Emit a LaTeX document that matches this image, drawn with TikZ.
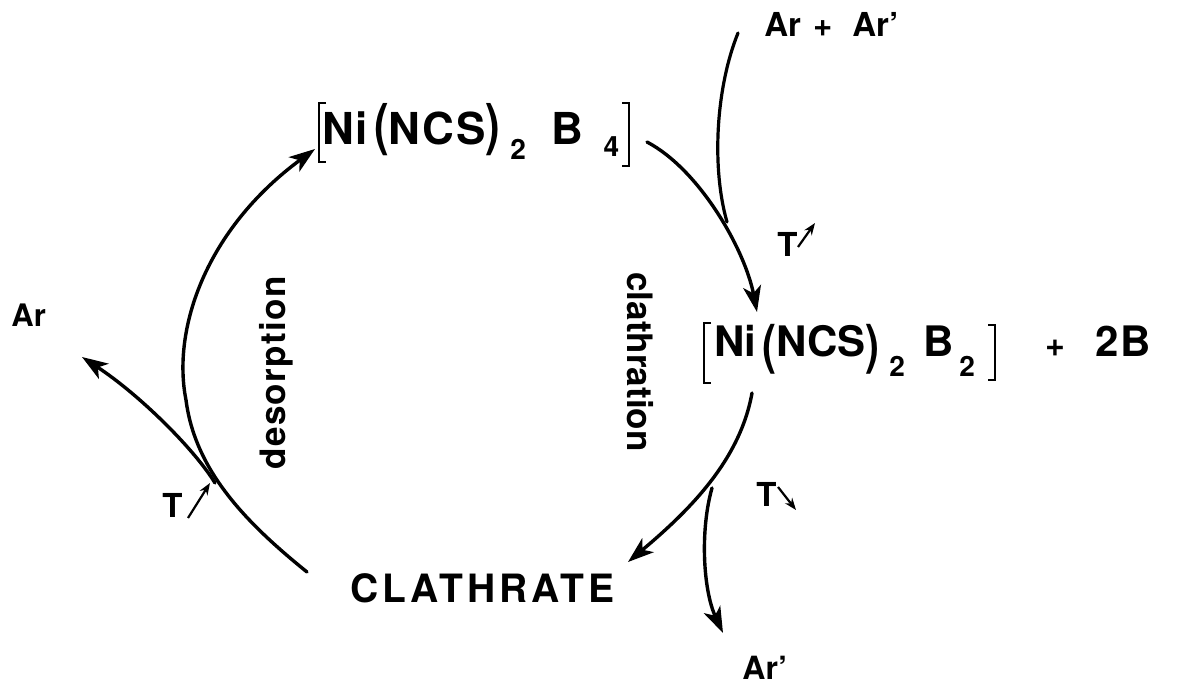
\documentclass[tikz,border=0pt]{standalone}
\usepackage{fontspec}
\usepackage{graphicx}
\setmainfont{TeX Gyre Heros}
\newfontfamily\spacedfont[LetterSpace=10]{TeX Gyre Heros}
\newfontfamily\medspfont[LetterSpace=4]{TeX Gyre Heros}
\usetikzlibrary{arrows.meta}
\newcommand{\tallp}[2]{\raisebox{#2}{\scalebox{1}[1.28]{#1}}}
\newcommand{\subn}[2]{\raisebox{#2}{\fontsize{14}{14}\selectfont #1}}
\begin{document}
\begin{tikzpicture}[x=0.5pt,y=-0.5pt,
  txt/.style={inner sep=0pt, anchor=base west, font=\bfseries},
  conn/.style={line width=1.7pt, line cap=round, -{Stealth[length=13pt,width=9pt,inset=3.5pt]}},
  plain/.style={line width=1.6pt, line cap=round},
  tarrow/.style={line width=1.1pt, -{Stealth[length=6pt,width=4.5pt]}},
  brk/.style={line width=1.1pt}]
\useasboundingbox (0,0) rectangle (1188,688);

% formulas
\node[txt] (nib4) at (322,145) {\medspfont\fontsize{22}{22}\selectfont Ni\kern3pt\tallp{(}{0pt}NCS\tallp{)}{0pt}\kern5pt\subn{2}{-7.5pt}\kern13pt B\kern10pt\subn{4}{-6pt}};
\draw[brk] (326,103) -- (319,103) -- (319,162) -- (326,162);
\draw[brk] (622,103) -- (629,103) -- (629,166) -- (622,166);

\node[txt] (nib2) at (714,357) {\fontsize{21}{21}\selectfont Ni\kern3pt\tallp{(}{-3.3pt}NCS\tallp{)}{-3.3pt}\kern5pt\subn{2}{-10pt}\kern9pt B\kern3pt\subn{2}{-10pt}};
\draw[brk] (711,323) -- (704,323) -- (704,383) -- (711,383);
\draw[brk] (988,325) -- (995,325) -- (995,380) -- (988,380);

\node[txt] (plus) at (1045,357) {{\fontsize{17}{17}\selectfont +}\kern15pt{\fontsize{21}{21}\selectfont 2\kern1pt B}};

\node[txt, font=\bfseries\spacedfont\fontsize{19.5}{19.5}\selectfont] (clath) at (350,603) {CLATHRATE};

\node[txt, font=\bfseries\fontsize{16.5}{16.5}\selectfont] (arar) at (764,37) {Ar\kern6pt+\kern10pt Ar’};
\node[txt, font=\bfseries\fontsize{15.5}{15.5}\selectfont] (arl) at (11,327) {Ar};
\node[txt, font=\bfseries\fontsize{16}{16}\selectfont] (arp) at (742,680) {Ar’};

\node[txt, font=\bfseries\fontsize{16.5}{16.5}\selectfont] (t1) at (777,257) {T};
\node[txt, font=\bfseries\fontsize{16.5}{16.5}\selectfont] (t2) at (756,507) {T};
\node[txt, font=\bfseries\fontsize{16.5}{16.5}\selectfont] (t3) at (162,518) {T};

\node[inner sep=0pt, rotate=90, font=\bfseries\medspfont\fontsize{17.5}{17.5}\selectfont] (desorp) at (276,373) {desorption};
\node[inner sep=0pt, rotate=-90, font=\bfseries\fontsize{17.5}{17.5}\selectfont] (clthr) at (640,362) {clathration};

% coordinates for connector ends
\coordinate (cS) at (307,572);
\coordinate (aM) at (186,400);
\coordinate (b4in) at (315,149);
\coordinate (jL) at (215,483);
\coordinate (arTip) at (82,357);
\coordinate (b4out) at (647,142);
\coordinate (b2in) at (757,312);
\coordinate (arTop) at (738,33);
\coordinate (jT) at (727,222);
\coordinate (b2out) at (752,393);
\coordinate (cIn) at (628,562);
\coordinate (jB) at (712,488);
\coordinate (arpTip) at (723,633);

% desorption arc
\draw[conn] (cS) .. controls (245,522) and (195,470) .. (aM)
  .. controls (172,330) and (205,230) .. (b4in);
% branch to Ar
\draw[conn] (jL) .. controls (195,450) and (140,395) .. (arTip);
% clathration
\draw[conn] (b4out) .. controls (700,170) and (745,250) .. (b2in);
\draw[plain] (arTop) .. controls (715,90) and (712,170) .. (jT);
% to clathrate
\draw[conn] (b2out) .. controls (740,460) and (690,510) .. (cIn);
\draw[conn] (jB) .. controls (700,530) and (703,590) .. (arpTip);

% temperature arrows
\coordinate (t1a) at (798,247); \coordinate (t1b) at (815,223);
\coordinate (t2a) at (778,487); \coordinate (t2b) at (796,510);
\coordinate (t3a) at (188,518); \coordinate (t3b) at (210,483);
\draw[tarrow] (t1a) -- (t1b);
\draw[tarrow] (t2a) -- (t2b);
\draw[tarrow] (t3a) -- (t3b);
\end{tikzpicture}
\end{document}
